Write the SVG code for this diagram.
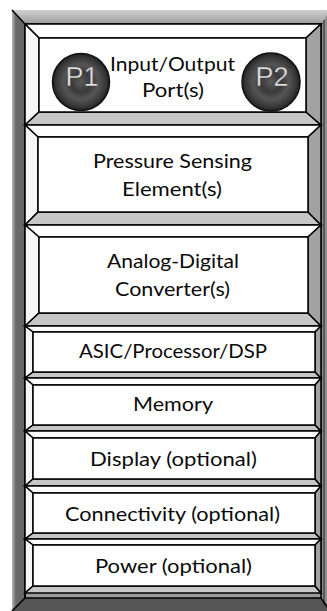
<svg xmlns="http://www.w3.org/2000/svg" width="327" height="611" viewBox="0 0 327 611">
<style>
.ft{fill:url(#gTop)}
.fl{fill:url(#gLeft)}
.fr{fill:#8e8e8e}
.fb{fill:#555}
.mt{fill:#fdfdfd;stroke:#000;stroke-width:1.5;stroke-linejoin:miter}
.ml{fill:#f6f6f6;stroke:#000;stroke-width:1.5}
.mb{fill:#c6c6c6;stroke:#000;stroke-width:1.5}
.mr{fill:#a2a2a2;stroke:#000;stroke-width:1.5}
.mc{fill:#fff;stroke:#000;stroke-width:1.5}
.lbl{font-family:Lato,"Open Sans","Liberation Sans",sans-serif;font-size:20px;fill:#0a0a0a;text-anchor:middle}
.port{font-family:"Liberation Sans",Arial,sans-serif;font-size:27px;fill:#e2e2e2;stroke:#444;stroke-width:0.4;text-anchor:middle}
.pc{fill:url(#gPort);stroke:#111;stroke-width:1.5}
</style>
<defs>
<linearGradient id="gTop" x1="0" y1="0" x2="0" y2="1">
<stop offset="0" stop-color="#d0d0d0"/><stop offset="1" stop-color="#9c9c9c"/>
</linearGradient>
<linearGradient id="gLeft" x1="0" y1="0" x2="1" y2="0">
<stop offset="0" stop-color="#b8b8b8"/><stop offset="0.3" stop-color="#6a6a6a"/><stop offset="1" stop-color="#666"/>
</linearGradient>
<radialGradient id="gPort" cx="0.5" cy="0.5" r="0.5">
<stop offset="0" stop-color="#5a5a5a"/><stop offset="0.35" stop-color="#3a3a3a"/><stop offset="0.6" stop-color="#555"/><stop offset="0.85" stop-color="#3a3a3a"/><stop offset="1" stop-color="#222"/>
</radialGradient>
</defs>

<g id="frame">
<rect x="25" y="24" width="296" height="574" fill="#9a9a9a"/>
<polygon class="ft" points="12,10 330,10 321,24 25,24"/>
<polygon class="fl" points="12,10 25,24 25,598 12,611"/>
<polygon class="fr" points="330,10 330,611 321,598 321,24"/>
<polygon class="fb" points="12,611 25,598 321,598 330,611"/>
<polyline points="12,10 25,24 321,24" fill="none" stroke="#000" stroke-width="1.5"/>
<line x1="25" y1="24" x2="25" y2="598" stroke="#000" stroke-width="2"/>
<line x1="321" y1="24" x2="321" y2="598" stroke="#000" stroke-width="1.5"/>
<line x1="324" y1="20" x2="324" y2="605" stroke="#222" stroke-width="1"/>
<polyline points="12,611 25,598 321,598 330,611" fill="none" stroke="#000" stroke-width="1.5"/>
</g>

<g id="module-io">
<polygon class="mt" points="25,24 321,24 306,38 39,38"/>
<polygon class="ml" points="25,24 39,38 39,112 25,125"/>
<polygon class="mb" points="25,125 39,112 306,112 321,125"/>
<polygon class="mr" points="321,24 321,125 306,112 306,38"/>
<rect class="mc" x="39" y="38" width="267" height="74"/>
<text class="lbl" x="172.5" y="71" textLength="125" lengthAdjust="spacingAndGlyphs">Input/Output</text>
<text class="lbl" x="173" y="97" textLength="62" lengthAdjust="spacingAndGlyphs">Port(s)</text>
</g>
<g id="port-p1">
<circle class="pc" cx="81" cy="82" r="28.5"/>
<text class="port" x="82" y="86">P1</text>
</g>
<g id="port-p2">
<circle class="pc" cx="271" cy="82" r="29"/>
<text class="port" x="272" y="86">P2</text>
</g>

<g id="module-sensing">
<polygon class="mt" points="25,125 321,125 308,137 38,137"/>
<polygon class="ml" points="25,125 38,137 38,212 25,225"/>
<polygon class="mb" points="25,225 38,212 308,212 321,225"/>
<polygon class="mr" points="321,125 321,225 308,212 308,137"/>
<rect class="mc" x="38" y="137" width="270" height="75"/>
<text class="lbl" x="172.5" y="168" textLength="159" lengthAdjust="spacingAndGlyphs">Pressure Sensing</text>
<text class="lbl" x="172" y="196" textLength="100" lengthAdjust="spacingAndGlyphs">Element(s)</text>
</g>

<g id="module-adc">
<polygon class="mt" points="25,225 321,225 308,237 39,237"/>
<polygon class="ml" points="25,225 39,237 39,313 25,326"/>
<polygon class="mb" points="25,326 39,313 308,313 321,326"/>
<polygon class="mr" points="321,225 321,326 308,313 308,237"/>
<rect class="mc" x="39" y="237" width="269" height="76"/>
<text class="lbl" x="173" y="268" textLength="132" lengthAdjust="spacingAndGlyphs">Analog-Digital</text>
<text class="lbl" x="172.5" y="296" textLength="115" lengthAdjust="spacingAndGlyphs">Converter(s)</text>
</g>

<g id="module-asic">
<polygon class="mt" points="25,326 321,326 315,332 33,332"/>
<polygon class="ml" points="25,326 33,332 33,372 25,378"/>
<polygon class="mb" points="25,378 33,372 315,372 321,378"/>
<polygon class="mr" points="321,326 321,378 315,372 315,332"/>
<rect class="mc" x="33" y="332" width="282" height="40"/>
<text class="lbl" x="173" y="358" textLength="188" lengthAdjust="spacingAndGlyphs">ASIC/Processor/DSP</text>
</g>

<g id="module-memory">
<polygon class="mt" points="25,378 321,378 315,385 33,385"/>
<polygon class="ml" points="25,378 33,385 33,425 25,431"/>
<polygon class="mb" points="25,431 33,425 315,425 321,431"/>
<polygon class="mr" points="321,378 321,431 315,425 315,385"/>
<rect class="mc" x="33" y="385" width="282" height="40"/>
<text class="lbl" x="173" y="411" textLength="80" lengthAdjust="spacingAndGlyphs">Memory</text>
</g>

<g id="module-display">
<polygon class="mt" points="25,431 321,431 315,438 33,438"/>
<polygon class="ml" points="25,431 33,438 33,479 25,486"/>
<polygon class="mb" points="25,486 33,479 315,479 321,486"/>
<polygon class="mr" points="321,431 321,486 315,479 315,438"/>
<rect class="mc" x="33" y="438" width="282" height="41"/>
<text class="lbl" x="173.5" y="466" textLength="167" lengthAdjust="spacingAndGlyphs">Display (optional)</text>
</g>

<g id="module-connectivity">
<polygon class="mt" points="25,486 321,486 315,493 33,493"/>
<polygon class="ml" points="25,486 33,493 33,533 25,539"/>
<polygon class="mb" points="25,539 33,533 315,533 321,539"/>
<polygon class="mr" points="321,486 321,539 315,533 315,493"/>
<rect class="mc" x="33" y="493" width="282" height="40"/>
<text class="lbl" x="172.5" y="521" textLength="215" lengthAdjust="spacingAndGlyphs">Connectivity (optional)</text>
</g>

<g id="module-power">
<polygon class="mt" points="25,539 321,539 315,545 33,545"/>
<polygon class="ml" points="25,539 33,545 33,586 25,593"/>
<polygon class="mb" points="25,593 33,586 315,586 321,593"/>
<polygon class="mr" points="321,539 321,593 315,586 315,545"/>
<rect class="mc" x="33" y="545" width="282" height="41"/>
<text class="lbl" x="173.5" y="573" textLength="157" lengthAdjust="spacingAndGlyphs">Power (optional)</text>
</g>

<g id="connectors"></g>
</svg>
